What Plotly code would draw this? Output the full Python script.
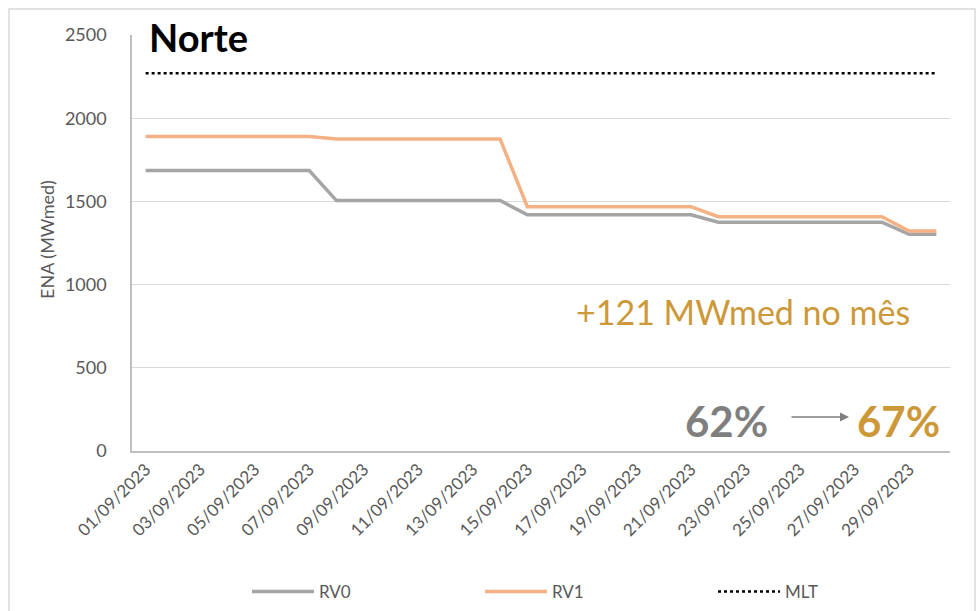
import plotly.graph_objects as go

# ---- data ----
days = [f"2023-09-{d:02d}" for d in range(1, 31)]
rv0 = [1685]*7 + [1505]*7 + [1420]*7 + [1375]*7 + [1302]*2
rv1 = [1890]*7 + [1875]*7 + [1468]*7 + [1408]*7 + [1322]*2
mlt = [2270]*30
y_ticks = [0, 500, 1000, 1500, 2000, 2500]

FONT = "Lato, Liberation Sans, Arial"
GOLD = "#CD9838"
GRAY_TXT = "#595959"

fig = go.Figure()
fig.add_trace(go.Scatter(x=days, y=rv0, mode="lines", name="RV0",
                         line=dict(color="#A5A5A5", width=3.5)))
fig.add_trace(go.Scatter(x=days, y=rv1, mode="lines", name="RV1",
                         line=dict(color="#F4B183", width=3.5)))
fig.add_trace(go.Scatter(x=days, y=mlt, mode="lines", name="MLT",
                         line=dict(color="#000000", width=2.5, dash="dot")))

L, R, T, B = 132, 26, 35, 160
W, H = 976, 611
pw, ph = W - L - R, H - T - B

def px(x):
    return (x - L) / pw

def py(y):
    return (H - B - y) / ph

fig.update_layout(
    width=W, height=H,
    margin=dict(l=L, r=R, t=T, b=B, autoexpand=False),
    paper_bgcolor="white", plot_bgcolor="white",
    font=dict(family=FONT, color=GRAY_TXT, size=17),
    showlegend=True,
    legend=dict(orientation="h", x=px(247), xanchor="left", y=py(592), yanchor="middle",
                font=dict(size=17, color=GRAY_TXT), itemwidth=62,
                entrywidth=156, entrywidthmode="pixels", bgcolor="rgba(0,0,0,0)"),
    xaxis=dict(type="date", range=["2023-08-31 12:00", "2023-09-30 12:00"],
               tick0="2023-09-01", dtick=2*86400000, tickformat="%d/%m/%Y",
               tickangle=-45, showgrid=False, showline=True, linecolor="#BFBFBF",
               linewidth=1.5, ticks="", automargin=False,
               tickfont=dict(size=17, color=GRAY_TXT)),
    yaxis=dict(range=[0, 2500], tickvals=y_ticks, showgrid=True, gridcolor="#D9D9D9",
               gridwidth=1, showline=True, linecolor="#BFBFBF", linewidth=1.5,
               ticks="", ticklabelstandoff=20, zeroline=False, automargin=False,
               tickfont=dict(size=18, color=GRAY_TXT)),
)

fig.add_annotation(text="ENA (MWmed)", xref="paper", yref="paper", x=px(47), y=py(240),
                   xanchor="center", yanchor="middle",
                   textangle=-90, showarrow=False, font=dict(size=18, color=GRAY_TXT))
fig.add_annotation(text="<b>Norte</b>", xref="paper", yref="paper", x=px(147), y=py(37),
                   xanchor="left", yanchor="middle", showarrow=False,
                   font=dict(size=38, color="black"))
fig.add_annotation(text="+121 MWmed no mês", xref="paper", yref="paper", x=px(912), y=py(311),
                   xanchor="right", yanchor="middle", showarrow=False,
                   font=dict(size=34, color=GOLD))
fig.add_annotation(text="<b>62%</b>", xref="paper", yref="paper", x=px(770), y=py(421),
                   xanchor="right", yanchor="middle", showarrow=False,
                   font=dict(size=42, color="#7F7F7F"))
fig.add_annotation(text="<b>67%</b>", xref="paper", yref="paper", x=px(855), y=py(421),
                   xanchor="left", yanchor="middle", showarrow=False,
                   font=dict(size=42, color=GOLD))
fig.add_annotation(text="", xref="paper", yref="paper", x=px(849), y=py(417),
                   ax=-59, ay=0, axref="pixel", ayref="pixel", showarrow=True,
                   arrowhead=2, arrowsize=1.2, arrowwidth=1.5, arrowcolor="#7F7F7F")

fig.add_shape(type="rect", xref="paper", yref="paper", x0=px(9), x1=px(975),
              y0=py(625), y1=py(9), line=dict(color="#D9D9D9", width=1.5),
              fillcolor="rgba(0,0,0,0)", layer="below")

fig.write_html("out.html", config={"displayModeBar": False},
               post_script="document.body.style.margin='0';document.body.style.overflow='hidden';")
